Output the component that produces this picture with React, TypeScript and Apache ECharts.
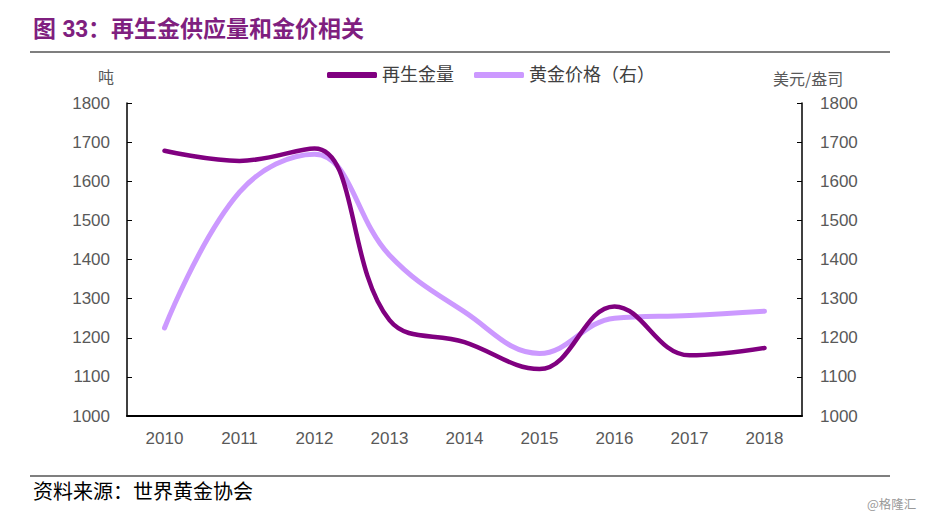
import React, { useEffect, useRef } from "react";
import * as echarts from "echarts";

const years = ["2010", "2011", "2012", "2013", "2014", "2015", "2016", "2017", "2018"];
const recycled = [1678, 1652, 1684, 1245, 1189, 1120, 1280, 1155, 1174];
const goldPrice = [1225, 1572, 1669, 1411, 1266, 1160, 1250, 1257, 1268];
const yTicks = { min: 1000, max: 1800, interval: 100 };

const labelColor = "#595959";
const font = "'Liberation Sans', Arial, 'Noto Sans CJK SC', sans-serif";

export default function App() {
  const ref = useRef<HTMLDivElement>(null);
  useEffect(() => {
    if (!ref.current) return;
    const chart = echarts.init(ref.current, undefined, { renderer: "svg" });
    const plain = (v: number) => String(v);
    chart.setOption({
      animation: false,
      backgroundColor: "#fff",
      textStyle: { fontFamily: font },
      grid: { left: 127, right: 124, top: 103, bottom: 103 },
      legend: {
        top: 61,
        left: 322,
        itemWidth: 50,
        itemHeight: 6,
        itemGap: 20,
        icon: "roundRect",
        textStyle: { fontSize: 18, color: "#404040", fontFamily: font },
        data: ["再生金量", "黄金价格（右）"],
      },
      graphic: [
        {
          type: "text",
          left: 33,
          top: 17,
          style: {
            text: "图 33：再生金供应量和金价相关",
            fill: "#7F1F7F",
            font: "bold 23px 'Liberation Sans', 'Noto Sans CJK SC', sans-serif",
          },
        },
        { type: "line", shape: { x1: 30, y1: 52, x2: 890, y2: 52 }, style: { stroke: "#000", lineWidth: 1.2 } },
        { type: "line", shape: { x1: 30, y1: 476, x2: 890, y2: 476 }, style: { stroke: "#000", lineWidth: 1.2 } },
        {
          type: "text",
          left: 33,
          top: 480,
          style: { text: "资料来源：世界黄金协会", fill: "#000", font: "20px 'Noto Sans CJK SC', serif" },
        },
        {
          type: "text",
          left: 867,
          top: 497,
          style: { text: "@格隆汇", fill: "#999", font: "12.5px 'Noto Sans CJK SC', sans-serif" },
        },
        {
          type: "text",
          left: 98,
          top: 68,
          style: { text: "吨", fill: labelColor, font: "16px 'Noto Sans CJK SC', sans-serif" },
        },
        {
          type: "text",
          left: 773,
          top: 70,
          style: { text: "美元/盎司", fill: labelColor, font: "16px 'Noto Sans CJK SC', sans-serif" },
        },
      ],
      xAxis: {
        type: "category",
        data: years,
        boundaryGap: true,
        axisLine: { lineStyle: { color: "#000", width: 2 } },
        axisTick: { inside: true, length: 5, lineStyle: { color: "#000", width: 1 } },
        axisLabel: { color: labelColor, fontSize: 17, margin: 14, fontFamily: font },
      },
      yAxis: [
        {
          type: "value",
          ...yTicks,
          axisLine: { show: true, lineStyle: { color: "#000", width: 1.5 } },
          axisTick: { show: true, inside: true, length: 5, lineStyle: { color: "#000" } },
          axisLabel: { color: labelColor, fontSize: 17, margin: 17, fontFamily: font, formatter: plain },
          splitLine: { show: false },
        },
        {
          type: "value",
          ...yTicks,
          position: "right",
          axisLine: { show: true, lineStyle: { color: "#000", width: 1.5 } },
          axisTick: { show: true, inside: true, length: 5, lineStyle: { color: "#000" } },
          axisLabel: { color: labelColor, fontSize: 17, margin: 18, fontFamily: font, formatter: plain },
          splitLine: { show: false },
        },
      ],
      series: [
        {
          name: "再生金量",
          type: "line",
          data: recycled,
          yAxisIndex: 0,
          smooth: 0.4,
          showSymbol: false,
          symbol: "none",
          color: "#800080",
          lineStyle: { color: "#800080", width: 4.5, cap: "round" },
          z: 3,
        },
        {
          name: "黄金价格（右）",
          type: "line",
          data: goldPrice,
          yAxisIndex: 1,
          smooth: 0.4,
          showSymbol: false,
          symbol: "none",
          color: "#CC99FF",
          lineStyle: { color: "#CC99FF", width: 5, cap: "round" },
          z: 2,
        },
      ],
    });
    return () => chart.dispose();
  }, []);
  return (
    <div
      ref={ref}
      style={{ position: "absolute", left: 0, top: 0, width: 926, height: 519 }}
    />
  );
}
